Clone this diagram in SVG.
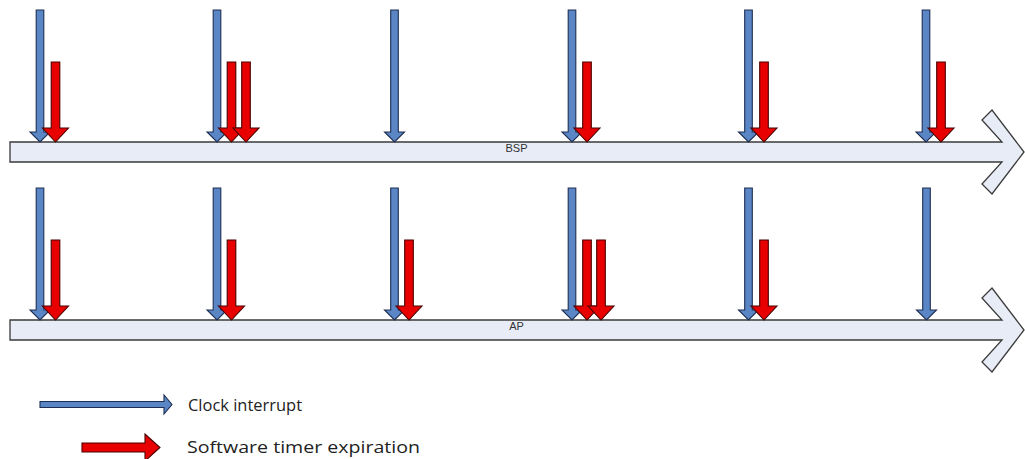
<svg xmlns="http://www.w3.org/2000/svg" xmlns:xlink="http://www.w3.org/1999/xlink" width="1025" height="459" viewBox="0 0 1025 459">
<style>
.track{fill:#e7ecf6;stroke:#3a3a3a;stroke-width:1.3;stroke-linejoin:miter}
.blue{fill:#5a86c6;stroke:#1e2e52;stroke-width:1.1}
.red{fill:#e80000;stroke:#4a0000;stroke-width:1.1}
.lbl{font-family:"Liberation Sans",Arial,sans-serif;font-size:11px;fill:#333;text-anchor:middle}
.leg{font-family:"Open Sans","Liberation Sans",sans-serif;font-size:17px;fill:#222}
</style>
<defs>
<path id="bdown" d="M-3.8,-132 H3.8 V-10 H10 L0,0 L-10,-10 H-3.8 Z"/>
<path id="rdown" d="M-4.3,-80 H4.3 V-14 H13 L0,0 L-13,-14 H-4.3 Z"/>
</defs>
<g id="bsp-track">
<path class="track" d="M10,142 H1002 L982,120 L992,110 L1024,152 L992,194 L982,184 L1002,162 H10 Z"/>
<text class="lbl" x="516.5" y="151.5">BSP</text>
</g>
<g id="ap-track">
<path class="track" d="M10,320 H1002 L982,298 L992,288 L1024,330 L992,372 L982,362 L1002,340 H10 Z"/>
<text class="lbl" x="516.5" y="329.5">AP</text>
</g>
<g id="connectors">
<g id="bsp-ticks">
<use xlink:href="#bdown" class="blue" x="40" y="142"/>
<use xlink:href="#bdown" class="blue" x="217" y="142"/>
<use xlink:href="#bdown" class="blue" x="394.5" y="142"/>
<use xlink:href="#bdown" class="blue" x="572" y="142"/>
<use xlink:href="#bdown" class="blue" x="748.5" y="142"/>
<use xlink:href="#bdown" class="blue" x="926" y="142"/>
<use xlink:href="#rdown" class="red" x="55.5" y="142"/>
<use xlink:href="#rdown" class="red" x="231.5" y="142"/>
<use xlink:href="#rdown" class="red" x="246" y="142"/>
<use xlink:href="#rdown" class="red" x="587" y="142"/>
<use xlink:href="#rdown" class="red" x="764" y="142"/>
<use xlink:href="#rdown" class="red" x="941" y="142"/>
</g>
<g id="ap-ticks">
<use xlink:href="#bdown" class="blue" x="40" y="320"/>
<use xlink:href="#bdown" class="blue" x="217" y="320"/>
<use xlink:href="#bdown" class="blue" x="394.5" y="320"/>
<use xlink:href="#bdown" class="blue" x="572" y="320"/>
<use xlink:href="#bdown" class="blue" x="748.5" y="320"/>
<use xlink:href="#bdown" class="blue" x="926.5" y="320"/>
<use xlink:href="#rdown" class="red" x="55.5" y="320"/>
<use xlink:href="#rdown" class="red" x="231.5" y="320"/>
<use xlink:href="#rdown" class="red" x="409" y="320"/>
<use xlink:href="#rdown" class="red" x="587" y="320"/>
<use xlink:href="#rdown" class="red" x="601" y="320"/>
<use xlink:href="#rdown" class="red" x="764" y="320"/>
</g>
</g>
<g id="legend-clock">
<path class="blue" d="M40,401.5 H164 V395 L172,404.5 L164,414 V407.5 H40 Z"/>
<text class="leg" x="188" y="410.5" textLength="114" lengthAdjust="spacingAndGlyphs">Clock interrupt</text>
</g>
<g id="legend-timer">
<path class="red" d="M82,443 H145 V434 L160,447.5 L145,461 V452 H82 Z"/>
<text class="leg" x="187" y="453" textLength="233" lengthAdjust="spacingAndGlyphs">Software timer expiration</text>
</g>
</svg>
